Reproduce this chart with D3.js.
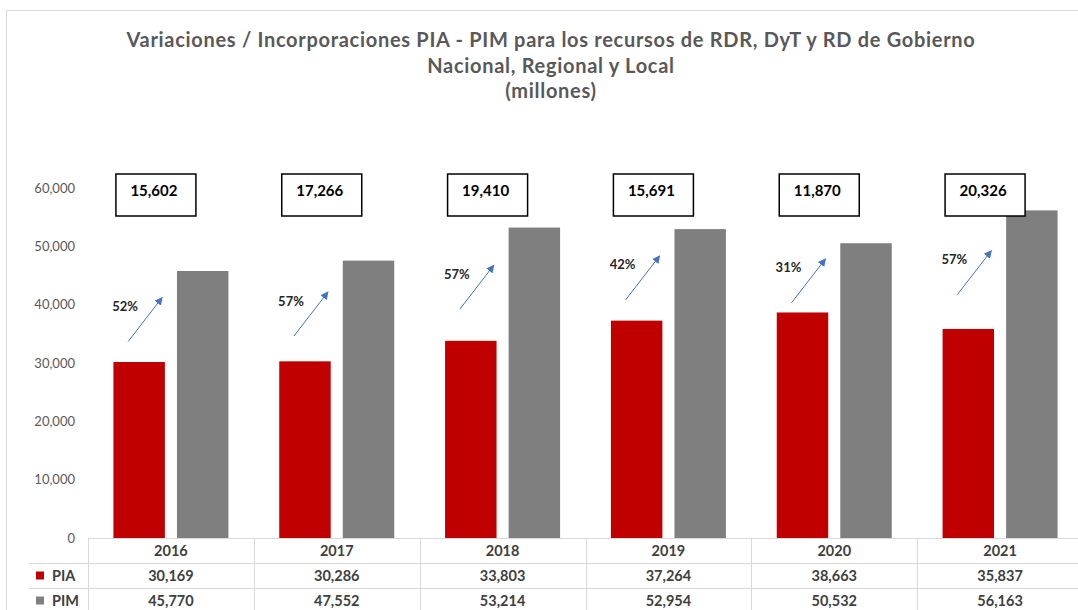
<!DOCTYPE html>
<html>
<head>
<meta charset="utf-8">
<script src="https://cdnjs.cloudflare.com/ajax/libs/d3/7.8.5/d3.min.js"></script>
<style>
body { margin: 0; background: #fff; }
</style>
</head>
<body>
<div class="center"></div>
<script>
// chart values
var years = ["2016", "2017", "2018", "2019", "2020", "2021"];
var pia = [30169, 30286, 33803, 37264, 38663, 35837];
var pim = [45770, 47552, 53214, 52954, 50532, 56163];
var increase = ["15,602", "17,266", "19,410", "15,691", "11,870", "20,326"];
var increasePct = ["52%", "57%", "57%", "42%", "31%", "57%"];
var seriesNames = ["PIA", "PIM"];
var yTicks = [0, 10000, 20000, 30000, 40000, 50000, 60000];
var titleLines = [
    "Variaciones / Incorporaciones PIA - PIM para los recursos de RDR, DyT y RD de Gobierno",
    "Nacional, Regional y Local",
    "(millones)"
];

var width = 1078, height = 610;
var font = "Lato, 'Open Sans', sans-serif";
var colors = {PIA: "#c00000", PIM: "#7f7f7f"};
var gridColor = "#d9d9d9";

var data = years.map(function(d, i) {
    return {year: d, PIA: pia[i], PIM: pim[i], inc: increase[i], pct: increasePct[i]};
});

// scales
var x = d3.scaleBand().domain(years).range([88, 1083]);
var xs = d3.scaleBand().domain(seriesNames).range([0, x.bandwidth()])
    .paddingInner(0.19).paddingOuter(0.4);
var y = d3.scaleLinear().domain([0, 60000]).range([538, 188]);

var svg = d3.select(".center").append("svg")
    .attr("width", width)
    .attr("height", height)
    .style("display", "block");

svg.append("defs").append("marker")
    .attr("id", "head")
    .attr("viewBox", "0 0 10 10")
    .attr("refX", 9).attr("refY", 5)
    .attr("markerWidth", 8).attr("markerHeight", 8)
    .attr("markerUnits", "userSpaceOnUse")
    .attr("orient", "auto")
    .append("path")
    .attr("d", "M0,0L10,5L0,10z")
    .style("fill", "#4472c4");

// outer frame
svg.append("path")
    .attr("d", "M6.5,610V10.5H1078")
    .style("fill", "none")
    .style("stroke", gridColor);

// title
svg.selectAll(".title")
    .data(titleLines)
    .enter().append("text")
    .attr("class", "title")
    .attr("x", 551)
    .attr("y", function(d, i) { return 47 + i * 25.5; })
    .attr("text-anchor", "middle")
    .style("font-family", font)
    .style("font-weight", "bold")
    .style("font-size", "20px")
    .style("letter-spacing", "0.7px")
    .style("fill", "#595959")
    .text(function(d) { return d; });

// y axis labels
var yAxis = svg.append("g")
    .attr("transform", "translate(" + x.range()[0] + ",0)")
    .call(d3.axisLeft(y).tickValues(yTicks).tickSize(0).tickPadding(13).tickFormat(d3.format(",")));
yAxis.select(".domain").remove();
yAxis.selectAll("text")
    .style("font-family", font)
    .style("font-size", "13px")
    .style("fill", "#595959");

// bars
var groups = svg.selectAll(".year")
    .data(data)
    .enter().append("g")
    .attr("class", "year")
    .attr("transform", function(d) { return "translate(" + x(d.year) + ",0)"; });

groups.selectAll("rect")
    .data(function(d) { return seriesNames.map(function(k) { return {key: k, value: d[k]}; }); })
    .enter().append("rect")
    .attr("x", function(d) { return xs(d.key); })
    .attr("width", xs.bandwidth())
    .attr("y", function(d) { return y(d.value); })
    .attr("height", function(d) { return y(0) - y(d.value); })
    .style("fill", function(d) { return colors[d.key]; });

// increase boxes
var boxW = 80, boxH = 42;
groups.append("rect")
    .attr("x", x.bandwidth() / 2 - 15 - boxW / 2)
    .attr("y", y(60000) - 14)
    .attr("width", boxW)
    .attr("height", boxH)
    .style("fill", "#fff")
    .style("stroke", "#000")
    .style("stroke-width", 1.5);

groups.append("text")
    .attr("x", x.bandwidth() / 2 - 17)
    .attr("y", y(60000) + 8)
    .attr("text-anchor", "middle")
    .style("font-family", font)
    .style("font-weight", "bold")
    .style("font-size", "15px")
    .style("fill", "#000")
    .text(function(d) { return d.inc; });

// arrows between PIA and PIM tops
function arrowMid(d) {
    return {
        x: xs("PIA") + xs.bandwidth() / 2 + 6,
        y: (y(d.PIA) + y(d.PIM)) / 2 + 3
    };
}

groups.append("line")
    .attr("x1", function(d) { return arrowMid(d).x - 17; })
    .attr("y1", function(d) { return arrowMid(d).y + 22; })
    .attr("x2", function(d) { return arrowMid(d).x + 17; })
    .attr("y2", function(d) { return arrowMid(d).y - 22; })
    .style("stroke", "#4472c4")
    .style("stroke-width", 1)
    .attr("marker-end", "url(#head)");

groups.append("text")
    .attr("x", function(d) { return arrowMid(d).x - 20; })
    .attr("y", function(d) { return arrowMid(d).y - 13; })
    .attr("dy", "0.35em")
    .attr("text-anchor", "middle")
    .style("font-family", font)
    .style("font-weight", "bold")
    .style("font-size", "13px")
    .style("fill", "#262626")
    .text(function(d) { return d.pct; });

// data table under the chart
var rowTop = [y(0) + 1, y(0) + 25, y(0) + 50];
var rowH = 25;
var table = svg.append("g");

table.append("line")
    .attr("x1", x.range()[0]).attr("x2", width)
    .attr("y1", y(0) + 0.5).attr("y2", y(0) + 0.5)
    .style("stroke", gridColor);

[rowTop[1], rowTop[2]].forEach(function(t) {
    table.append("line")
        .attr("x1", 29).attr("x2", width)
        .attr("y1", Math.round(t) + 0.5).attr("y2", Math.round(t) + 0.5)
        .style("stroke", gridColor);
});

table.selectAll(".vline")
    .data(years)
    .enter().append("line")
    .attr("class", "vline")
    .attr("x1", function(d) { return Math.round(x(d)) + 0.5; })
    .attr("x2", function(d) { return Math.round(x(d)) + 0.5; })
    .attr("y1", y(0))
    .attr("y2", height)
    .style("stroke", gridColor);

table.selectAll(".yr")
    .data(years)
    .enter().append("text")
    .attr("class", "yr")
    .attr("x", function(d) { return x(d) + x.bandwidth() / 2; })
    .attr("y", rowTop[0] + rowH / 2 - 1)
    .attr("dy", "0.35em")
    .attr("text-anchor", "middle")
    .style("font-family", font)
    .style("font-weight", "bold")
    .style("font-size", "14.5px")
    .style("fill", "#404040")
    .text(function(d) { return d; });

seriesNames.forEach(function(k, r) {
    var cy = rowTop[r + 1] + rowH / 2;
    table.append("rect")
        .attr("x", 36).attr("y", cy - 4)
        .attr("width", 8).attr("height", 8)
        .style("fill", colors[k]);
    table.append("text")
        .attr("x", 52).attr("y", cy)
        .attr("dy", "0.35em")
        .style("font-family", font)
        .style("font-weight", "bold")
        .style("font-size", "14.5px")
        .style("fill", "#404040")
        .text(k);
    table.selectAll(".v" + k)
        .data(data)
        .enter().append("text")
        .attr("x", function(d) { return x(d.year) + x.bandwidth() / 2; })
        .attr("y", cy)
        .attr("dy", "0.35em")
        .attr("text-anchor", "middle")
        .style("font-family", font)
        .style("font-weight", "bold")
        .style("font-size", "14.5px")
        .style("fill", "#404040")
        .text(function(d) { return d3.format(",")(d[k]); });
});
</script>
</body>
</html>
